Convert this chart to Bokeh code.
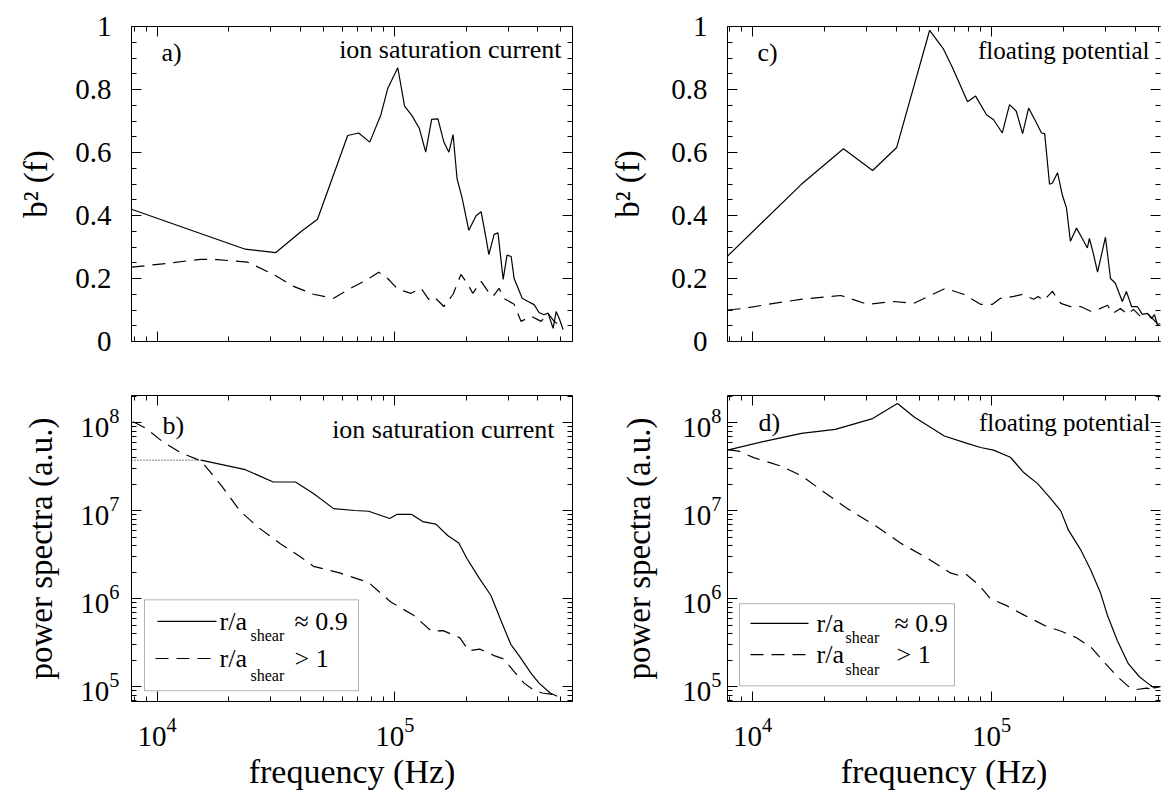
import math
from bokeh.plotting import figure
from bokeh.models import (FixedTicker, LinearAxis, LogAxis, Label, BoxAnnotation,
                          Arrow, Range1d, CustomJSTickFormatter)
from bokeh.layouts import column, row
from bokeh.embed import file_html
from bokeh.resources import INLINE

FONT = "Liberation Serif"

# ---------------- data ----------------
# a) bicoherence b^2(f), ion saturation current
a_sol_f = [7.8e3, 2.35e4, 3.15e4, 4.05e4, 4.73e4, 6.34e4, 7.05e4, 7.85e4, 8.73e4, 9.34e4,
           1.03e5, 1.10e5, 1.18e5, 1.27e5, 1.35e5, 1.43e5, 1.52e5, 1.61e5, 1.69e5, 1.76e5,
           1.83e5, 1.92e5, 2.05e5, 2.20e5, 2.31e5, 2.42e5, 2.49e5, 2.62e5, 2.72e5, 2.86e5,
           2.97e5, 3.09e5, 3.18e5, 3.44e5, 3.64e5, 3.86e5, 4.05e5, 4.25e5, 4.42e5, 4.64e5,
           4.78e5, 4.92e5, 5.11e5]
a_sol_b = [0.42, 0.293, 0.282, 0.35, 0.388, 0.654, 0.662, 0.633, 0.718, 0.803,
           0.869, 0.747, 0.718, 0.676, 0.601, 0.705, 0.707, 0.633, 0.601, 0.657,
           0.516, 0.457, 0.353, 0.399, 0.412, 0.33, 0.276, 0.34, 0.345, 0.197,
           0.274, 0.27, 0.20, 0.137, 0.127, 0.117, 0.092, 0.085, 0.09, 0.042,
           0.095, 0.074, 0.038]
a_dash_f = [7.8e3, 1.10e4, 1.52e4, 1.79e4, 2.40e4, 3.09e4, 3.75e4, 4.55e4, 5.53e4, 6.52e4,
            7.69e4, 8.56e4, 9.34e4, 1.03e5, 1.17e5, 1.29e5, 1.39e5, 1.46e5, 1.61e5, 1.76e5,
            1.90e5, 2.03e5, 2.13e5, 2.31e5, 2.47e5, 2.59e5, 2.75e5, 2.88e5, 3.18e5, 3.40e5,
            3.75e5, 4.13e5, 4.42e5, 4.69e5, 5.11e5]
a_dash_b = [0.236, 0.248, 0.261, 0.26, 0.252, 0.213, 0.175, 0.15, 0.137, 0.169,
            0.197, 0.22, 0.2, 0.166, 0.153, 0.169, 0.134, 0.143, 0.111, 0.15,
            0.213, 0.182, 0.153, 0.191, 0.159, 0.143, 0.169, 0.137, 0.118, 0.064,
            0.08, 0.064, 0.089, 0.064, 0.041]

# c) bicoherence b^2(f), floating potential
c_sol_f = [7.85e3, 1.60e4, 2.40e4, 3.18e4, 4.01e4, 5.51e4, 6.30e4, 6.87e4, 7.94e4, 8.58e4,
           9.53e4, 1.02e5, 1.11e5, 1.19e5, 1.27e5, 1.35e5, 1.43e5, 1.53e5, 1.62e5, 1.67e5,
           1.75e5, 1.80e5, 1.89e5, 1.98e5, 2.06e5, 2.14e5, 2.27e5, 2.40e5, 2.52e5, 2.57e5,
           2.67e5, 2.78e5, 3.00e5, 3.15e5, 3.30e5, 3.53e5, 3.67e5, 3.86e5, 4.08e5, 4.28e5,
           4.50e5, 4.67e5, 4.81e5, 4.95e5, 5.10e5]
c_sol_b = [0.271, 0.499, 0.612, 0.543, 0.616, 0.988, 0.928, 0.869, 0.761, 0.779,
           0.72, 0.704, 0.662, 0.752, 0.731, 0.66, 0.741, 0.699, 0.662, 0.66,
           0.499, 0.503, 0.536, 0.465, 0.424, 0.318, 0.36, 0.327, 0.297, 0.327,
           0.279, 0.22, 0.331, 0.2, 0.185, 0.127, 0.159, 0.111, 0.111, 0.086,
           0.089, 0.073, 0.085, 0.054, 0.057]
c_dash_f = [7.85e3, 9.17e3, 1.16e4, 1.59e4, 2.34e4, 3.03e4, 3.89e4, 4.72e4, 6.42e4, 7.64e4,
            9.00e4, 1.01e5, 1.09e5, 1.24e5, 1.35e5, 1.50e5, 1.57e5, 1.65e5, 1.80e5, 1.95e5,
            2.20e5, 2.36e5, 2.60e5, 2.80e5, 3.06e5, 3.21e5, 3.47e5, 3.71e5, 3.93e5, 4.20e5,
            4.54e5, 4.95e5]
c_dash_b = [0.10, 0.105, 0.118, 0.134, 0.146, 0.118, 0.127, 0.121, 0.169, 0.15,
            0.118, 0.118, 0.137, 0.143, 0.15, 0.134, 0.143, 0.13, 0.159, 0.121,
            0.108, 0.111, 0.096, 0.102, 0.115, 0.089, 0.105, 0.086, 0.102, 0.08,
            0.086, 0.057]

# b) power spectra, ion saturation current
b_sol_f = [7.8e3, 1.53e4, 2.35e4, 3.08e4, 3.82e4, 4.55e4, 5.53e4, 6.78e4, 7.77e4, 9.53e4,
           1.02e5, 1.18e5, 1.31e5, 1.49e5, 1.67e5, 1.86e5, 2.01e5, 2.26e5, 2.54e5, 2.83e5,
           3.08e5, 3.37e5, 3.75e5, 4.05e5, 4.51e5, 4.83e5]
b_sol_p = [3.77e7, 3.77e7, 2.94e7, 2.13e7, 2.13e7, 1.58e7, 1.06e7, 1.01e7, 9.9e6, 8.2e6,
           9.1e6, 9.1e6, 7.55e6, 7.06e6, 5.25e6, 4.32e6, 2.89e6, 1.74e6, 1.09e6, 5.28e5,
           3.04e5, 2.17e5, 1.42e5, 1.10e5, 8.5e4, 7.8e4]
b_dash_f = [7.93e3, 8.99e3, 1.05e4, 1.26e4, 1.53e4, 1.86e4, 2.24e4, 2.67e4, 3.30e4, 4.09e4,
            4.55e4, 5.86e4, 7.77e4, 9.62e4, 1.20e5, 1.43e5, 1.60e5, 1.88e5, 2.05e5, 2.28e5,
            2.62e5, 2.88e5, 3.15e5, 3.50e5, 3.82e5, 4.17e5, 4.64e5]
b_dash_p = [1.03e8, 8.65e7, 6.17e7, 4.57e7, 3.70e7, 1.95e7, 9.9e6, 6.46e6, 4.24e6, 2.89e6,
            2.34e6, 1.97e6, 1.53e6, 9.2e5, 6.5e5, 4.27e5, 4.35e5, 3.6e5, 2.57e5, 2.68e5,
            2.26e5, 2.07e5, 1.54e5, 1.10e5, 9.3e4, 8.5e4, 8.15e4]

# d) power spectra, floating potential
d_sol_f = [7.85e3, 1.12e4, 1.60e4, 2.22e4, 3.18e4, 4.04e4, 4.76e4, 6.35e4, 7.85e4, 9.0e4,
           1.02e5, 1.20e5, 1.36e5, 1.56e5, 1.77e5, 1.95e5, 2.10e5, 2.36e5, 2.60e5, 2.86e5,
           3.06e5, 3.37e5, 3.74e5, 4.16e5, 4.50e5, 4.81e5, 5.10e5]
d_sol_p = [4.9e7, 6.17e7, 7.62e7, 8.43e7, 1.12e8, 1.66e8, 1.16e8, 7.11e7, 5.9e7, 5.25e7,
           4.9e7, 4.07e7, 2.75e7, 2.04e7, 1.38e7, 1.0e7, 6.03e6, 3.63e6, 2.14e6, 1.17e6,
           6.46e5, 3.31e5, 1.83e5, 1.30e5, 1.10e5, 9.7e4, 1.0e5]
d_dash_f = [7.85e3, 8.74e3, 1.01e4, 1.30e4, 1.60e4, 1.98e4, 2.47e4, 3.27e4, 4.20e4, 5.40e4,
            6.73e4, 7.48e4, 7.85e4, 8.91e4, 9.91e4, 1.15e5, 1.37e5, 1.70e5, 1.96e5, 2.27e5,
            2.62e5, 3.00e5, 3.37e5, 3.74e5, 4.01e5, 4.45e5, 4.95e5]
d_dash_p = [4.98e7, 4.78e7, 4.03e7, 3.26e7, 2.52e7, 1.65e7, 1.08e7, 6.76e6, 4.24e6, 2.89e6,
            1.97e6, 1.81e6, 1.89e6, 1.41e6, 1.0e6, 8.43e5, 6.53e5, 4.85e5, 4.28e5, 3.61e5,
            2.79e5, 1.83e5, 1.30e5, 1.01e5, 9.27e4, 9.66e4, 9.27e4]

# tick values
X_MAJOR = [1e4, 1e5]
X_MINOR = [8e3, 9e3] + [k * 1e4 for k in range(2, 10)] + [k * 1e5 for k in range(2, 6)]
B2_MAJOR = [0, 0.2, 0.4, 0.6, 0.8, 1]
B2_MINOR = [0.05, 0.1, 0.15, 0.25, 0.3, 0.35, 0.45, 0.5, 0.55, 0.65, 0.7, 0.75, 0.85, 0.9, 0.95]
PS_MAJOR = [1e5, 1e6, 1e7, 1e8]
PS_MINOR = [7e4, 8e4, 9e4] + [k * 10 ** e for e in (5, 6, 7) for k in range(2, 10)] + [2e8]

XR_L = (7.8e3, 5.6e5)
XR_R = (7.85e3, 5.1e5)
YR_B2 = (0.0, 1.0)
YR_PS = (6.8e4, 2.05e8)

LEGEND_1 = ("r/a", "shear", "\u2248 0.9")
LEGEND_2 = ("r/a", "shear", "> 1")

DASH = "13 8"
DOT = "1 2"
LW = 1.2

# frame geometry on the page (pixels)
FL_L, FR_L = 131, 572
FL_R, FR_R = 727, 1160
FT_T, FB_T = 26, 341
FT_B, FB_B = 395, 708


def to_x(px, fl, fr, xr):
    t = (px - fl) / (fr - fl)
    a, b = math.log10(xr[0]), math.log10(xr[1])
    return 10 ** (a + t * (b - a))


def to_y(py, ft, fb, yr, ylog):
    t = (fb - py) / (fb - ft)
    if ylog:
        a, b = math.log10(yr[0]), math.log10(yr[1])
        return 10 ** (a + t * (b - a))
    return yr[0] + t * (yr[1] - yr[0])


def make_panel(width, height, bl, br, bt, bb, xr, yr, ylog):
    p = figure(width=width, height=height, x_axis_type="log",
               y_axis_type=("log" if ylog else "linear"),
               x_range=Range1d(*xr), y_range=Range1d(*yr),
               output_backend="svg", toolbar_location=None,
               min_border_left=bl, min_border_right=br,
               min_border_top=bt, min_border_bottom=bb)
    p.xgrid.visible = False
    p.ygrid.visible = False
    p.outline_line_color = None
    p.border_fill_color = "white"
    p.background_fill_color = "white"
    return p


def style(ax, ticks, minor, line=True):
    ax.ticker = FixedTicker(ticks=ticks, minor_ticks=minor)
    ax.major_tick_in = 10
    ax.major_tick_out = 0
    ax.minor_tick_in = 5
    ax.minor_tick_out = 0
    ax.axis_line_color = "black" if line else None
    ax.axis_line_width = 1
    ax.major_tick_line_color = "black"
    ax.minor_tick_line_color = "black"
    ax.major_label_text_font = FONT
    ax.major_label_text_color = "black"
    ax.axis_label_text_font = FONT
    ax.axis_label_text_font_style = "normal"
    ax.axis_label_text_color = "black"


def blank(ax):
    ax.formatter = CustomJSTickFormatter(code="return '';")
    ax.major_label_text_font_size = "0px"
    ax.major_label_standoff = 0


def setup_axes(p, ylog, show_x, right_line, y_title, y_label_standoff, y_title_standoff):
    top = LogAxis()
    right = LogAxis() if ylog else LinearAxis()
    p.add_layout(top, "above")
    p.add_layout(right, "right")
    bottom = p.below[0]
    left = p.left[0]
    yt, ym = (PS_MAJOR, PS_MINOR) if ylog else (B2_MAJOR, B2_MINOR)
    style(bottom, X_MAJOR, X_MINOR)
    style(top, X_MAJOR, X_MINOR)
    style(left, yt, ym)
    style(right, yt, ym, line=right_line)
    blank(top)
    blank(right)
    if show_x:
        bottom.major_label_text_font_size = "29px"
        bottom.major_label_standoff = 16
        bottom.axis_label = "frequency (Hz)"
        bottom.axis_label_text_font_size = "34px"
        bottom.axis_label_standoff = 4
    else:
        blank(bottom)
    left.major_label_text_font_size = "29px"
    left.major_label_standoff = y_label_standoff
    if not ylog:
        left.formatter = CustomJSTickFormatter(
            code="return (Math.round(tick * 10) / 10).toString();")
    left.axis_label = y_title
    left.axis_label_text_font_size = "33px"
    left.axis_label_standoff = y_title_standoff


def add_text(p, geo, px, py, text, size, align="left"):
    fl, fr, ft, fb, xr, yr, ylog = geo
    p.add_layout(Label(x=to_x(px, fl, fr, xr), y=to_y(py, ft, fb, yr, ylog), text=text,
                       text_font=FONT, text_font_size=size, text_color="black",
                       text_align=align, text_baseline="middle"))


def add_legend(p, geo, box, rows):
    fl, fr, ft, fb, xr, yr, ylog = geo
    x0, x1, y0, y1 = box
    p.add_layout(BoxAnnotation(left=to_x(x0, fl, fr, xr), right=to_x(x1, fl, fr, xr),
                               top=to_y(y0, ft, fb, yr, ylog), bottom=to_y(y1, ft, fb, yr, ylog),
                               fill_alpha=0, line_color="black", line_width=1))
    for (lx0, lx1, ly, dash, tx, sub_x, sub_dy, rest_x, texts) in rows:
        yy = to_y(ly, ft, fb, yr, ylog)
        p.add_layout(Arrow(end=None, x_start=to_x(lx0, fl, fr, xr), y_start=yy,
                           x_end=to_x(lx1, fl, fr, xr), y_end=yy,
                           line_color="black", line_width=LW, line_dash=dash))
        add_text(p, geo, tx, ly, texts[0], "26px")
        add_text(p, geo, sub_x, ly + sub_dy, texts[1], "16px")
        add_text(p, geo, rest_x, ly, texts[2], "26px")


# ---------------- panels ----------------
W_L, W_R = 600, 561
H_T, H_B = 368, 424

pa = make_panel(W_L, H_T, FL_L, W_L - FR_L, FT_T, H_T - FB_T, XR_L, YR_B2, False)
pc = make_panel(W_R, H_T, FL_R - W_L, 1161 - FR_R, FT_T, H_T - FB_T, XR_R, YR_B2, False)
pb = make_panel(W_L, H_B, FL_L, W_L - FR_L, FT_B - H_T, 792 - FB_B, XR_L, YR_PS, True)
pd = make_panel(W_R, H_B, FL_R - W_L, 1161 - FR_R, FT_B - H_T, 792 - FB_B, XR_R, YR_PS, True)

setup_axes(pa, False, False, True, "b\u00b2 (f)", 20, 18)
setup_axes(pc, False, False, False, "b\u00b2 (f)", 20, 22)
setup_axes(pb, True, True, True, "power spectra (a.u.)", 12, 18)
setup_axes(pd, True, True, False, "power spectra (a.u.)", 6, 22)

pa.line(a_sol_f, a_sol_b, line_color="black", line_width=LW)
pa.line(a_dash_f, a_dash_b, line_color="black", line_width=LW, line_dash=DASH)
pc.line(c_sol_f, c_sol_b, line_color="black", line_width=LW)
pc.line(c_dash_f, c_dash_b, line_color="black", line_width=LW, line_dash=DASH)
# flat low-frequency part of the b) solid curve is drawn dotted in the original
pb.line(b_sol_f[:2], b_sol_p[:2], line_color="black", line_width=1, line_dash=DOT)
pb.line(b_sol_f[1:], b_sol_p[1:], line_color="black", line_width=LW)
pb.line(b_dash_f, b_dash_p, line_color="black", line_width=LW, line_dash=DASH)
pd.line(d_sol_f, d_sol_p, line_color="black", line_width=LW)
pd.line(d_dash_f, d_dash_p, line_color="black", line_width=LW, line_dash=DASH)

geo_a = (FL_L, FR_L, FT_T, FB_T, XR_L, YR_B2, False)
geo_c = (FL_R, FR_R, FT_T, FB_T, XR_R, YR_B2, False)
geo_b = (FL_L, FR_L, FT_B, FB_B, XR_L, YR_PS, True)
geo_d = (FL_R, FR_R, FT_B, FB_B, XR_R, YR_PS, True)

add_text(pa, geo_a, 161, 52, "a)", "26px")
add_text(pa, geo_a, 561, 49, "ion saturation current", "26px", "right")
add_text(pc, geo_c, 757, 52, "c)", "26px")
add_text(pc, geo_c, 1149, 50, "floating potential", "25px", "right")
add_text(pb, geo_b, 162, 426, "b)", "26px")
add_text(pb, geo_b, 554, 430, "ion saturation current", "26px", "right")
add_text(pd, geo_d, 758, 423, "d)", "26px")
add_text(pd, geo_d, 1150, 423, "floating potential", "25px", "right")

add_legend(pb, geo_b, (144, 358, 604, 697), [
    (157, 216, 626, "solid", 219, 250, 15, 294, LEGEND_1),
    (155, 212, 664, DASH, 219, 250, 17, 294, LEGEND_2),
])
add_legend(pd, geo_d, (739, 954, 608, 692), [
    (750, 808, 628, "solid", 816, 845, 15, 894, LEGEND_1),
    (750, 806, 660, DASH, 816, 845, 15, 896, LEGEND_2),
])

layout = column(row(pa, pc, spacing=0), row(pb, pd, spacing=0), spacing=0)
open("out.html", "w").write(file_html(layout, INLINE))
